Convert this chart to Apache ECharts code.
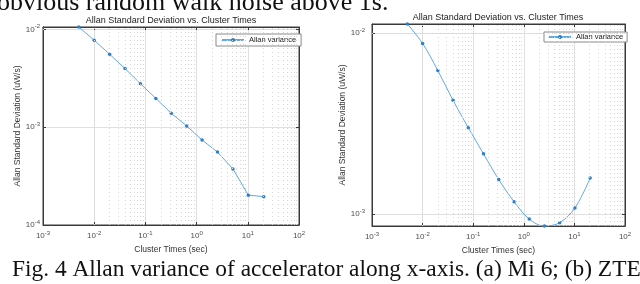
<!DOCTYPE html>
<html><head><meta charset="utf-8">
<script src="https://cdn.jsdelivr.net/npm/echarts@6/dist/echarts.min.js"></script>
<style>html,body{margin:0;padding:0;background:#fff;} #c{width:640px;height:284px;}</style>
</head><body><div id="c"></div>
<script>
// Cluster times (sec)
const tau = [0.005, 0.01, 0.02, 0.04, 0.08, 0.16, 0.32, 0.64, 1.28, 2.56, 5.12, 10.24, 20.48];
// (a) Mi 6 Allan deviation
const mi6 = [1.06e-2, 7.77e-3, 5.58e-3, 3.98e-3, 2.79e-3, 1.97e-3, 1.39e-3, 1.03e-3, 7.4e-4, 5.57e-4, 3.75e-4, 2.02e-4, 1.95e-4];
// (b) ZTE Allan deviation
const zte = [1.124e-2, 8.78e-3, 6.21e-3, 4.25e-3, 3.0e-3, 2.15e-3, 1.55e-3, 1.17e-3, 9.38e-4, 8.58e-4, 8.95e-4, 1.08e-3, 1.58e-3];

const titleText = 'Allan Standard Deviation vs. Cluster Times';
const xName = 'Cluster Times (sec)';
const yName = 'Allan Standard Deviation (uW/s)';
const seriesName = 'Allan variance';
const topText = 'obvious random walk noise above 1s.';
const caption = 'Fig. 4 Allan variance of accelerator along x-axis. (a) Mi 6; (b) ZTE';

const xMin = 1e-3, xMax = 1e2;
const leftYMin = 1e-4, leftYMax = mi6[0];
const rightYMin = Math.min(...zte), rightYMax = Math.max(...zte);

const FONT = 'Liberation Sans, Arial, Helvetica, sans-serif';
const LINE = '#62aae2';
const MARK = '#2f7fc8';
const AXC = '#4d4d4d';

function minorVals(lo, hi) {
  const out = [];
  for (let d = -5; d <= 2; d++) for (let m = 2; m <= 9; m++) {
    const v = m * Math.pow(10, d);
    if (v > lo && v < hi) out.push(v);
  }
  return out;
}
function powLabel(v) {
  const e = Math.log10(v); const r = Math.round(e);
  if (Math.abs(e - r) > 0.01) return '';
  return '{b|10}{s|' + r + '}';
}
const rich = {
  b: { fontSize: 8, color: AXC, fontFamily: FONT },
  s: { fontSize: 6, color: AXC, fontFamily: FONT, padding: [0, 0, 6, 0] }
};

function makeAxes(gi, isX, min, max, gap, labelMargin) {
  const base = {
    type: 'log', gridIndex: gi, min: min, max: max, logBase: 10,
    axisLine: { show: true, lineStyle: { color: '#3a3a3a', width: 1 } },
    axisTick: { show: true, inside: true, length: 3, lineStyle: { color: '#3a3a3a' } },
    splitLine: { show: true, lineStyle: { color: '#e0e0e0', width: 1 } },
    axisLabel: { formatter: powLabel, rich: rich, margin: labelMargin, hideOverlap: false, showMinLabel: true, showMaxLabel: true },
    name: isX ? xName : yName, nameLocation: 'middle', nameGap: gap,
    nameTextStyle: { fontSize: 8.5, color: '#333', fontFamily: FONT }
  };
  const mirror = {
    type: 'log', gridIndex: gi, min: min, max: max, logBase: 10,
    position: isX ? 'top' : 'right',
    axisLine: { show: true, lineStyle: { color: '#3a3a3a', width: 1 } },
    axisTick: { show: true, inside: true, length: 3, lineStyle: { color: '#3a3a3a' } },
    splitLine: { show: false }, axisLabel: { show: false }
  };
  return [base, mirror];
}

const [lx, lxT] = makeAxes(0, true, xMin, xMax, 18, 5);
const [ly, lyR] = makeAxes(0, false, leftYMin, leftYMax, 21, 3);
const [rx, rxT] = makeAxes(1, true, xMin, xMax, 18, 5);
const [ry, ryR] = makeAxes(1, false, rightYMin, rightYMax, 20, 7);

function minorMarkLine(ylo, yhi) {
  const data = [];
  minorVals(xMin, xMax).forEach(v => data.push({ xAxis: v }));
  minorVals(ylo, yhi).forEach(v => data.push({ yAxis: v }));
  return {
    silent: true, symbol: ['none', 'none'], animation: false,
    label: { show: false }, emphasis: { disabled: true },
    lineStyle: { type: [1, 3], color: '#d6d6d6', width: 1 },
    data: data
  };
}

function lineSeries(xi, yi, vals, smooth, ylo, yhi) {
  return {
    name: seriesName, type: 'line', xAxisIndex: xi, yAxisIndex: yi,
    data: tau.map((t, i) => [t, vals[i]]),
    smooth: smooth, symbol: 'circle', symbolSize: 3.5, showSymbol: true,
    lineStyle: { color: LINE, width: 1 },
    itemStyle: { color: MARK },
    clip: false, animation: false, z: 3,
    markLine: minorMarkLine(ylo, yhi)
  };
}

const legendBase = {
  data: [seriesName], orient: 'horizontal', itemWidth: 22, itemHeight: 5, itemGap: 4,
  borderColor: '#8a8a8a', borderWidth: 1, backgroundColor: '#fff',
  textStyle: { fontSize: 7.5, color: '#222', fontFamily: FONT }
};

const chart = echarts.init(document.getElementById('c'), null, { renderer: 'canvas' });
chart.setOption({
  backgroundColor: '#fff',
  animation: false,
  title: [
    { text: titleText, left: 171, top: 16, padding: 0, textAlign: 'center', textStyle: { fontSize: 9, fontWeight: 'normal', color: '#222', fontFamily: FONT } },
    { text: titleText, left: 498, top: 13, padding: 0, textAlign: 'center', textStyle: { fontSize: 9, fontWeight: 'normal', color: '#222', fontFamily: FONT } }
  ],
  legend: [
    Object.assign({}, legendBase, { left: 216, top: 34, padding: [2, 5, 2, 5] }),
    Object.assign({}, legendBase, { left: 544, top: 32, padding: [1, 4, 1, 4] })
  ],
  grid: [
    { left: 43, top: 27, width: 256, height: 198, show: true, borderColor: '#3a3a3a', borderWidth: 1, backgroundColor: '#fff' },
    { left: 372, top: 24, width: 253, height: 202, show: true, borderColor: '#3a3a3a', borderWidth: 1, backgroundColor: '#fff' }
  ],
  xAxis: [lx, lxT, rx, rxT],
  yAxis: [ly, lyR, ry, ryR],
  series: [
    lineSeries(0, 0, mi6, false, leftYMin, leftYMax),
    lineSeries(2, 2, zte, 0.35, rightYMin, rightYMax)
  ],
  graphic: [
    { type: 'text', left: -3, top: -10, style: { text: topText, font: '26px "Liberation Serif", "Times New Roman", serif', fill: '#111' } },
    { type: 'text', left: 12, top: 258, style: { text: caption, font: '23.4px "Liberation Serif", "Times New Roman", serif', fill: '#111' } }
  ]
});
</script></body></html>
